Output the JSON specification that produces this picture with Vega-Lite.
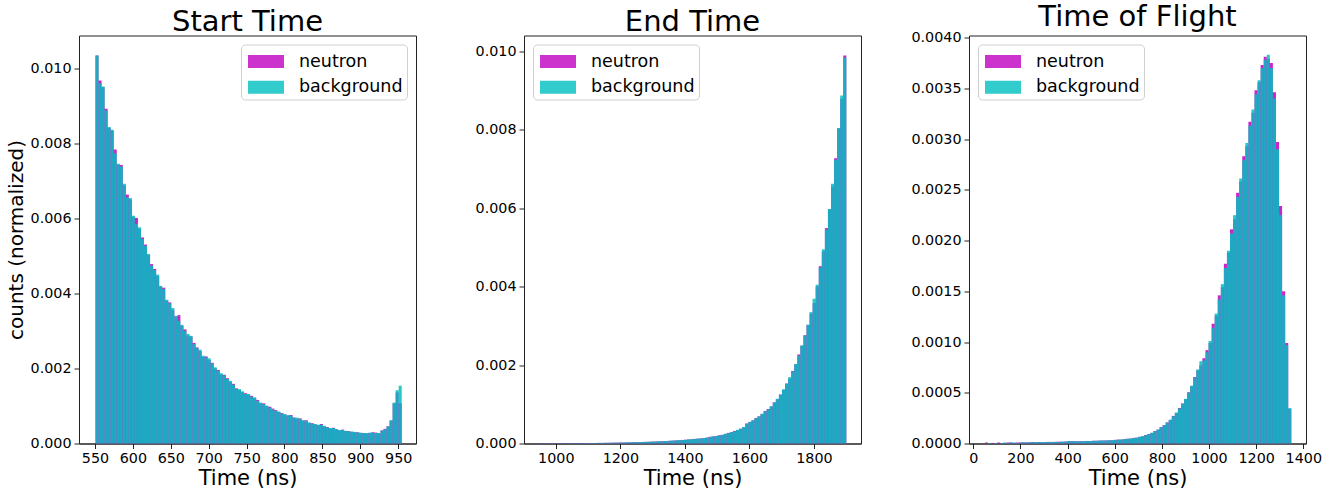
{
"$schema":"https://vega.github.io/schema/vega-lite/v6.json",
"background":"white",
"padding":{"left":5,"top":2.5,"right":5,"bottom":0},
"bounds":"flush",
"spacing":108,
"resolve":{"scale":{"x":"independent","y":"independent","color":"independent"},"legend":{"color":"independent"}},
"config":{
"font":"DejaVu Sans",
"view":{"stroke":"#222","strokeWidth":1},
"axis":{"domainColor":"#222","tickColor":"#222","labelColor":"#000","titleColor":"#000","labelFont":"DejaVu Sans","titleFont":"DejaVu Sans","labelFontSize":14.3,"titleFontSize":21,"titleFontWeight":"normal","tickSize":5,"labelPadding":3,"titlePadding":2,"grid":false},
"title":{"font":"DejaVu Sans","fontSize":29,"fontWeight":"normal","color":"#000","anchor":"middle","offset":-1.5},
"legend":{"title":null,"labelFont":"DejaVu Sans","labelFontSize":17.5,"labelColor":"#000","symbolType":"M-1,-0.61H1V0.11H-1Z","symbolSize":1296,"symbolOpacity":0.8,"symbolStrokeWidth":0,"symbolOffset":3.5,"labelOffset":21,"rowPadding":3.8,"padding":3.5,"strokeColor":"#d0d0d0","cornerRadius":4,"fillColor":"#ffffff","offset":9}
},
"hconcat":[
{
"width":337,"height":408,
"title":{"text":"Start Time"},
"data":{"values":[
{"t":550,"neutron":0.01034,"background":0.01034},
{"t":554,"neutron":0.00967,"background":0.0096},
{"t":558,"neutron":0.00949,"background":0.00951},
{"t":562,"neutron":0.00892,"background":0.00887},
{"t":566,"neutron":0.00841,"background":0.00843},
{"t":570,"neutron":0.00834,"background":0.00836},
{"t":574,"neutron":0.00783,"background":0.00773},
{"t":578,"neutron":0.00743,"background":0.00745},
{"t":582,"neutron":0.00742,"background":0.00738},
{"t":586,"neutron":0.00688,"background":0.00692},
{"t":590,"neutron":0.00663,"background":0.00656},
{"t":594,"neutron":0.0065,"background":0.00654},
{"t":598,"neutron":0.00604,"background":0.00607},
{"t":602,"neutron":0.00601,"background":0.00585},
{"t":606,"neutron":0.00572,"background":0.00576},
{"t":610,"neutron":0.00549,"background":0.00545},
{"t":614,"neutron":0.0053,"background":0.00527},
{"t":618,"neutron":0.00502,"background":0.00505},
{"t":622,"neutron":0.00478,"background":0.00474},
{"t":626,"neutron":0.00465,"background":0.00462},
{"t":630,"neutron":0.00446,"background":0.0045},
{"t":634,"neutron":0.00418,"background":0.0042},
{"t":638,"neutron":0.00415,"background":0.00412},
{"t":642,"neutron":0.00381,"background":0.00383},
{"t":646,"neutron":0.00376,"background":0.00374},
{"t":650,"neutron":0.00356,"background":0.00361},
{"t":654,"neutron":0.00338,"background":0.0034},
{"t":658,"neutron":0.00342,"background":0.00327},
{"t":662,"neutron":0.00314,"background":0.00316},
{"t":666,"neutron":0.00304,"background":0.003},
{"t":670,"neutron":0.00288,"background":0.00292},
{"t":674,"neutron":0.00285,"background":0.00287},
{"t":678,"neutron":0.00268,"background":0.00265},
{"t":682,"neutron":0.00256,"background":0.00254},
{"t":686,"neutron":0.00246,"background":0.0025},
{"t":690,"neutron":0.00231,"background":0.00234},
{"t":694,"neutron":0.00232,"background":0.00229},
{"t":698,"neutron":0.00222,"background":0.00227},
{"t":702,"neutron":0.00215,"background":0.00213},
{"t":706,"neutron":0.002,"background":0.00203},
{"t":710,"neutron":0.00196,"background":0.00194},
{"t":714,"neutron":0.00184,"background":0.00187},
{"t":718,"neutron":0.00183,"background":0.00181},
{"t":722,"neutron":0.00174,"background":0.00172},
{"t":726,"neutron":0.00164,"background":0.00167},
{"t":730,"neutron":0.00159,"background":0.00157},
{"t":734,"neutron":0.00147,"background":0.00145},
{"t":738,"neutron":0.00142,"background":0.00145},
{"t":742,"neutron":0.00137,"background":0.00139},
{"t":746,"neutron":0.00134,"background":0.00132},
{"t":750,"neutron":0.0013,"background":0.00132},
{"t":754,"neutron":0.00127,"background":0.00125},
{"t":758,"neutron":0.00121,"background":0.00123},
{"t":762,"neutron":0.00116,"background":0.00114},
{"t":766,"neutron":0.00107,"background":0.00109},
{"t":770,"neutron":0.00107,"background":0.00105},
{"t":774,"neutron":0.00099,"background":0.00101},
{"t":778,"neutron":0.00098,"background":0.00096},
{"t":782,"neutron":0.00093,"background":0.00091},
{"t":786,"neutron":0.00089,"background":0.00087},
{"t":790,"neutron":0.00084,"background":0.00085},
{"t":794,"neutron":0.00081,"background":0.0008},
{"t":798,"neutron":0.00077,"background":0.00078},
{"t":802,"neutron":0.00074,"background":0.00076},
{"t":806,"neutron":0.00076,"background":0.00074},
{"t":810,"neutron":0.00069,"background":0.00069},
{"t":814,"neutron":0.00066,"background":0.00069},
{"t":818,"neutron":0.00067,"background":0.00065},
{"t":822,"neutron":0.00061,"background":0.00062},
{"t":826,"neutron":0.00062,"background":0.0006},
{"t":830,"neutron":0.00055,"background":0.00056},
{"t":834,"neutron":0.00054,"background":0.00053},
{"t":838,"neutron":0.00051,"background":0.00052},
{"t":842,"neutron":0.00049,"background":0.0005},
{"t":846,"neutron":0.00052,"background":0.0005},
{"t":850,"neutron":0.00046,"background":0.00047},
{"t":854,"neutron":0.00044,"background":0.00043},
{"t":858,"neutron":0.0004,"background":0.00041},
{"t":862,"neutron":0.00042,"background":0.00041},
{"t":866,"neutron":0.00038,"background":0.00038},
{"t":870,"neutron":0.00035,"background":0.00036},
{"t":874,"neutron":0.00037,"background":0.00036},
{"t":878,"neutron":0.00033,"background":0.00034},
{"t":882,"neutron":0.00033,"background":0.00032},
{"t":886,"neutron":0.00031,"background":0.00032},
{"t":890,"neutron":0.0003,"background":0.00031},
{"t":894,"neutron":0.0003,"background":0.00029},
{"t":898,"neutron":0.00028,"background":0.00029},
{"t":902,"neutron":0.00028,"background":0.00028},
{"t":906,"neutron":0.00027,"background":0.00028},
{"t":910,"neutron":0.00028,"background":0.00029},
{"t":914,"neutron":0.0003,"background":0.00029},
{"t":918,"neutron":0.00029,"background":0.00028},
{"t":922,"neutron":0.00027,"background":0.00028},
{"t":926,"neutron":0.00035,"background":0.00034},
{"t":930,"neutron":0.00039,"background":0.00038},
{"t":934,"neutron":0.00046,"background":0.00045},
{"t":938,"neutron":0.00061,"background":0.00062},
{"t":942,"neutron":0.00107,"background":0.00109},
{"t":946,"neutron":0.00136,"background":0.00142},
{"t":950,"neutron":0.00107,"background":0.00154}
]},
"transform":[{"fold":["neutron","background"],"as":["series","value"]}],
"mark":{"type":"bar","opacity":0.85,"binSpacing":0},
"encoding":{
"x":{"field":"t","type":"quantitative","bin":{"binned":true,"step":4},"scale":{"domain":[528.9,973.5],"nice":false,"zero":false},"axis":{"title":"Time (ns)","values":[550,600,650,700,750,800,850,900,950],"format":"d"}},
"y":{"field":"value","type":"quantitative","stack":null,"scale":{"domain":[0,0.01087],"nice":false},"axis":{"title":"counts (normalized)","titleFontSize":20,"titlePadding":4,"values":[0,0.002,0.004,0.006,0.008,0.01],"format":".3f"}},
"color":{"field":"series","type":"nominal","scale":{"domain":["neutron","background"],"range":["#bf00bf","#00bfbf"]},"legend":{"orient":"top-right","symbolOpacity":0.8,"encode":{"labels":{"update":{"dx":{"value":-6},"dy":{"value":-4.5}}}}}}
}
},
{
"width":337,"height":408,
"title":{"text":"End Time"},
"data":{"values":[
{"t":949,"neutron":0.000012,"background":0.000006},
{"t":958.5,"neutron":0.000008,"background":0.000004},
{"t":968,"neutron":0.000005,"background":0.000006},
{"t":977.5,"neutron":0.000009,"background":0.000005},
{"t":987,"neutron":0.000006,"background":0.000007},
{"t":996.5,"neutron":0.00001,"background":0.000006},
{"t":1006,"neutron":0.000008,"background":0.000007},
{"t":1015.5,"neutron":0.000006,"background":0.000008},
{"t":1025,"neutron":0.000011,"background":0.000007},
{"t":1034.5,"neutron":0.000009,"background":0.000008},
{"t":1044,"neutron":0.000007,"background":0.000009},
{"t":1053.5,"neutron":0.00001,"background":0.000008},
{"t":1063,"neutron":0.000008,"background":0.00001},
{"t":1072.5,"neutron":0.000012,"background":0.000009},
{"t":1082,"neutron":0.00001,"background":0.000011},
{"t":1091.5,"neutron":0.000011,"background":0.000012},
{"t":1101,"neutron":0.000013,"background":0.000011},
{"t":1110.5,"neutron":0.000012,"background":0.000013},
{"t":1120,"neutron":0.000013,"background":0.000014},
{"t":1129.5,"neutron":0.000016,"background":0.000015},
{"t":1139,"neutron":0.000014,"background":0.000016},
{"t":1148.5,"neutron":0.000018,"background":0.000017},
{"t":1158,"neutron":0.000017,"background":0.000018},
{"t":1167.5,"neutron":0.000019,"background":0.00002},
{"t":1177,"neutron":0.000022,"background":0.000021},
{"t":1186.5,"neutron":0.000021,"background":0.000023},
{"t":1196,"neutron":0.000025,"background":0.000024},
{"t":1205.5,"neutron":0.000024,"background":0.000026},
{"t":1215,"neutron":0.000029,"background":0.000028},
{"t":1224.5,"neutron":0.000028,"background":0.00003},
{"t":1234,"neutron":0.000033,"background":0.000032},
{"t":1243.5,"neutron":0.000033,"background":0.000034},
{"t":1253,"neutron":0.000037,"background":0.000036},
{"t":1262.5,"neutron":0.000038,"background":0.000039},
{"t":1272,"neutron":0.000042,"background":0.000041},
{"t":1281.5,"neutron":0.000043,"background":0.000044},
{"t":1291,"neutron":0.000048,"background":0.000047},
{"t":1300.5,"neutron":0.000049,"background":0.00005},
{"t":1310,"neutron":0.000055,"background":0.000053},
{"t":1319.5,"neutron":0.000056,"background":0.000057},
{"t":1329,"neutron":0.000062,"background":0.000061},
{"t":1338.5,"neutron":0.000064,"background":0.000065},
{"t":1348,"neutron":0.000071,"background":0.000069},
{"t":1357.5,"neutron":0.000073,"background":0.000074},
{"t":1367,"neutron":0.00008,"background":0.000079},
{"t":1376.5,"neutron":0.000083,"background":0.000084},
{"t":1386,"neutron":0.000091,"background":0.00009},
{"t":1395.5,"neutron":0.000095,"background":0.000096},
{"t":1405,"neutron":0.000104,"background":0.000102},
{"t":1414.5,"neutron":0.000108,"background":0.000109},
{"t":1424,"neutron":0.000118,"background":0.000116},
{"t":1433.5,"neutron":0.000123,"background":0.000124},
{"t":1443,"neutron":0.00013,"background":0.00013},
{"t":1452.5,"neutron":0.00014,"background":0.00014},
{"t":1462,"neutron":0.00015,"background":0.00015},
{"t":1471.5,"neutron":0.00017,"background":0.00016},
{"t":1481,"neutron":0.00018,"background":0.00018},
{"t":1490.5,"neutron":0.00019,"background":0.00019},
{"t":1500,"neutron":0.00021,"background":0.0002},
{"t":1509.5,"neutron":0.00022,"background":0.00022},
{"t":1519,"neutron":0.00024,"background":0.00025},
{"t":1528.5,"neutron":0.00027,"background":0.00026},
{"t":1538,"neutron":0.00029,"background":0.00029},
{"t":1547.5,"neutron":0.00032,"background":0.00031},
{"t":1557,"neutron":0.00034,"background":0.00035},
{"t":1566.5,"neutron":0.00038,"background":0.00037},
{"t":1576,"neutron":0.00041,"background":0.00042},
{"t":1585.5,"neutron":0.00051,"background":0.0005},
{"t":1595,"neutron":0.00055,"background":0.00055},
{"t":1604.5,"neutron":0.00059,"background":0.00059},
{"t":1614,"neutron":0.00065,"background":0.00064},
{"t":1623.5,"neutron":0.00069,"background":0.00069},
{"t":1633,"neutron":0.00075,"background":0.00076},
{"t":1642.5,"neutron":0.00083,"background":0.00082},
{"t":1652,"neutron":0.00088,"background":0.00087},
{"t":1661.5,"neutron":0.00094,"background":0.00095},
{"t":1671,"neutron":0.00105,"background":0.00104},
{"t":1680.5,"neutron":0.00113,"background":0.00114},
{"t":1690,"neutron":0.00125,"background":0.00124},
{"t":1699.5,"neutron":0.00137,"background":0.00138},
{"t":1709,"neutron":0.00153,"background":0.00152},
{"t":1718.5,"neutron":0.00165,"background":0.00169},
{"t":1728,"neutron":0.00185,"background":0.00184},
{"t":1737.5,"neutron":0.00202,"background":0.00203},
{"t":1747,"neutron":0.00227,"background":0.00224},
{"t":1756.5,"neutron":0.00249,"background":0.0025},
{"t":1766,"neutron":0.00276,"background":0.00275},
{"t":1775.5,"neutron":0.00302,"background":0.00303},
{"t":1785,"neutron":0.00331,"background":0.00335},
{"t":1794.5,"neutron":0.00358,"background":0.00369},
{"t":1804,"neutron":0.004,"background":0.00405},
{"t":1813.5,"neutron":0.00452,"background":0.00449},
{"t":1823,"neutron":0.0049,"background":0.00495},
{"t":1832.5,"neutron":0.00549,"background":0.00545},
{"t":1842,"neutron":0.00597,"background":0.00598},
{"t":1851.5,"neutron":0.00655,"background":0.00662},
{"t":1861,"neutron":0.00727,"background":0.00723},
{"t":1870.5,"neutron":0.00803,"background":0.00804},
{"t":1880,"neutron":0.00879,"background":0.00887},
{"t":1889.5,"neutron":0.00989,"background":0.00984}
]},
"transform":[{"fold":["neutron","background"],"as":["series","value"]}],
"mark":{"type":"bar","opacity":0.85,"binSpacing":0},
"encoding":{
"x":{"field":"t","type":"quantitative","bin":{"binned":true,"step":9.5},"scale":{"domain":[901.4,1946],"nice":false,"zero":false},"axis":{"title":"Time (ns)","values":[1000,1200,1400,1600,1800],"format":"d"}},
"y":{"field":"value","type":"quantitative","stack":null,"scale":{"domain":[0,0.0104],"nice":false},"axis":{"title":null,"values":[0,0.002,0.004,0.006,0.008,0.01],"format":".3f"}},
"color":{"field":"series","type":"nominal","scale":{"domain":["neutron","background"],"range":["#bf00bf","#00bfbf"]},"legend":{"orient":"top-left","symbolOpacity":0.8,"encode":{"labels":{"update":{"dx":{"value":-6},"dy":{"value":-4.5}}}}}}
}
},
{
"width":337,"height":408,
"title":{"text":"Time of Flight"},
"data":{"values":[
{"t":47,"neutron":0.00001,"background":0},
{"t":60,"neutron":0,"background":0.000005},
{"t":73,"neutron":0.000005,"background":0},
{"t":86,"neutron":0.000005,"background":0.000005},
{"t":99,"neutron":0.00001,"background":0},
{"t":112,"neutron":0,"background":0.000005},
{"t":125,"neutron":0.000005,"background":0.00001},
{"t":138,"neutron":0.00001,"background":0.000005},
{"t":151,"neutron":0.00001,"background":0.00001},
{"t":164,"neutron":0.000005,"background":0.00001},
{"t":177,"neutron":0.00001,"background":0.000005},
{"t":190,"neutron":0.00001,"background":0.00001},
{"t":203,"neutron":0.000012,"background":0.00001},
{"t":216,"neutron":0.00001,"background":0.000012},
{"t":229,"neutron":0.000012,"background":0.00001},
{"t":242,"neutron":0.000014,"background":0.000012},
{"t":255,"neutron":0.000012,"background":0.000014},
{"t":268,"neutron":0.000014,"background":0.000012},
{"t":281,"neutron":0.000014,"background":0.000014},
{"t":294,"neutron":0.000013,"background":0.000015},
{"t":307,"neutron":0.000016,"background":0.000014},
{"t":320,"neutron":0.000015,"background":0.000016},
{"t":333,"neutron":0.000016,"background":0.000015},
{"t":346,"neutron":0.000016,"background":0.000017},
{"t":359,"neutron":0.000018,"background":0.000016},
{"t":372,"neutron":0.000017,"background":0.000018},
{"t":385,"neutron":0.000019,"background":0.00002},
{"t":398,"neutron":0.000022,"background":0.000025},
{"t":411,"neutron":0.000024,"background":0.000022},
{"t":424,"neutron":0.000022,"background":0.000021},
{"t":437,"neutron":0.000021,"background":0.000022},
{"t":450,"neutron":0.000023,"background":0.000022},
{"t":463,"neutron":0.000022,"background":0.000023},
{"t":476,"neutron":0.000025,"background":0.000024},
{"t":489,"neutron":0.000024,"background":0.000025},
{"t":502,"neutron":0.000027,"background":0.000026},
{"t":515,"neutron":0.000026,"background":0.000027},
{"t":528,"neutron":0.000029,"background":0.000028},
{"t":541,"neutron":0.000029,"background":0.00003},
{"t":554,"neutron":0.00003,"background":0.00003},
{"t":567,"neutron":0.000032,"background":0.000031},
{"t":580,"neutron":0.000032,"background":0.000033},
{"t":593,"neutron":0.000036,"background":0.000035},
{"t":606,"neutron":0.000039,"background":0.000037},
{"t":619,"neutron":0.000038,"background":0.00004},
{"t":632,"neutron":0.000043,"background":0.000042},
{"t":645,"neutron":0.000047,"background":0.000045},
{"t":658,"neutron":0.000048,"background":0.000049},
{"t":671,"neutron":0.000055,"background":0.000053},
{"t":684,"neutron":0.000057,"background":0.000058},
{"t":697,"neutron":0.000066,"background":0.000065},
{"t":710,"neutron":0.000071,"background":0.000073},
{"t":723,"neutron":0.000084,"background":0.000082},
{"t":736,"neutron":0.000094,"background":0.000093},
{"t":749,"neutron":0.000104,"background":0.000106},
{"t":762,"neutron":0.000123,"background":0.00012},
{"t":775,"neutron":0.000136,"background":0.000138},
{"t":788,"neutron":0.000161,"background":0.000158},
{"t":801,"neutron":0.000182,"background":0.00018},
{"t":814,"neutron":0.000208,"background":0.000205},
{"t":827,"neutron":0.000232,"background":0.000235},
{"t":840,"neutron":0.000272,"background":0.000268},
{"t":853,"neutron":0.000301,"background":0.000305},
{"t":866,"neutron":0.00035,"background":0.000345},
{"t":879,"neutron":0.000395,"background":0.00039},
{"t":892,"neutron":0.000436,"background":0.00044},
{"t":905,"neutron":0.000505,"background":0.0005},
{"t":918,"neutron":0.000565,"background":0.00057},
{"t":931,"neutron":0.000655,"background":0.00065},
{"t":944,"neutron":0.00072,"background":0.00073},
{"t":957,"neutron":0.00077,"background":0.00081},
{"t":970,"neutron":0.00084,"background":0.00082},
{"t":983,"neutron":0.00092,"background":0.0009},
{"t":996,"neutron":0.00099,"background":0.00101},
{"t":1009,"neutron":0.00118,"background":0.00114},
{"t":1022,"neutron":0.00126,"background":0.00128},
{"t":1035,"neutron":0.00146,"background":0.00142},
{"t":1048,"neutron":0.00154,"background":0.00157},
{"t":1061,"neutron":0.00177,"background":0.00173},
{"t":1074,"neutron":0.00188,"background":0.0019},
{"t":1087,"neutron":0.00211,"background":0.00207},
{"t":1100,"neutron":0.00221,"background":0.00225},
{"t":1113,"neutron":0.00247,"background":0.00243},
{"t":1126,"neutron":0.00258,"background":0.00261},
{"t":1139,"neutron":0.00283,"background":0.00279},
{"t":1152,"neutron":0.00293,"background":0.00296},
{"t":1165,"neutron":0.00317,"background":0.00313},
{"t":1178,"neutron":0.00326,"background":0.00329},
{"t":1191,"neutron":0.00348,"background":0.00344},
{"t":1204,"neutron":0.00356,"background":0.00358},
{"t":1217,"neutron":0.00373,"background":0.0037},
{"t":1230,"neutron":0.00381,"background":0.00378},
{"t":1243,"neutron":0.00379,"background":0.00383},
{"t":1256,"neutron":0.00375,"background":0.0037},
{"t":1269,"neutron":0.00346,"background":0.0034},
{"t":1282,"neutron":0.00297,"background":0.0029},
{"t":1295,"neutron":0.00234,"background":0.00225},
{"t":1308,"neutron":0.0015,"background":0.00146},
{"t":1321,"neutron":0.00099,"background":0.00097},
{"t":1334,"neutron":0.00034,"background":0.00035}
]},
"transform":[{"fold":["neutron","background"],"as":["series","value"]}],
"mark":{"type":"bar","opacity":0.85,"binSpacing":0},
"encoding":{
"x":{"field":"t","type":"quantitative","bin":{"binned":true,"step":13},"scale":{"domain":[-18.3,1411.5],"nice":false,"zero":false},"axis":{"title":"Time (ns)","values":[0,200,400,600,800,1000,1200,1400],"format":"d"}},
"y":{"field":"value","type":"quantitative","stack":null,"scale":{"domain":[0,0.00402],"nice":false},"axis":{"title":null,"values":[0,0.0005,0.001,0.0015,0.002,0.0025,0.003,0.0035,0.004],"format":".4f"}},
"color":{"field":"series","type":"nominal","scale":{"domain":["neutron","background"],"range":["#bf00bf","#00bfbf"]},"legend":{"orient":"top-left","symbolOpacity":0.8,"encode":{"labels":{"update":{"dx":{"value":-6},"dy":{"value":-4.5}}}}}}
}
}
]
}
